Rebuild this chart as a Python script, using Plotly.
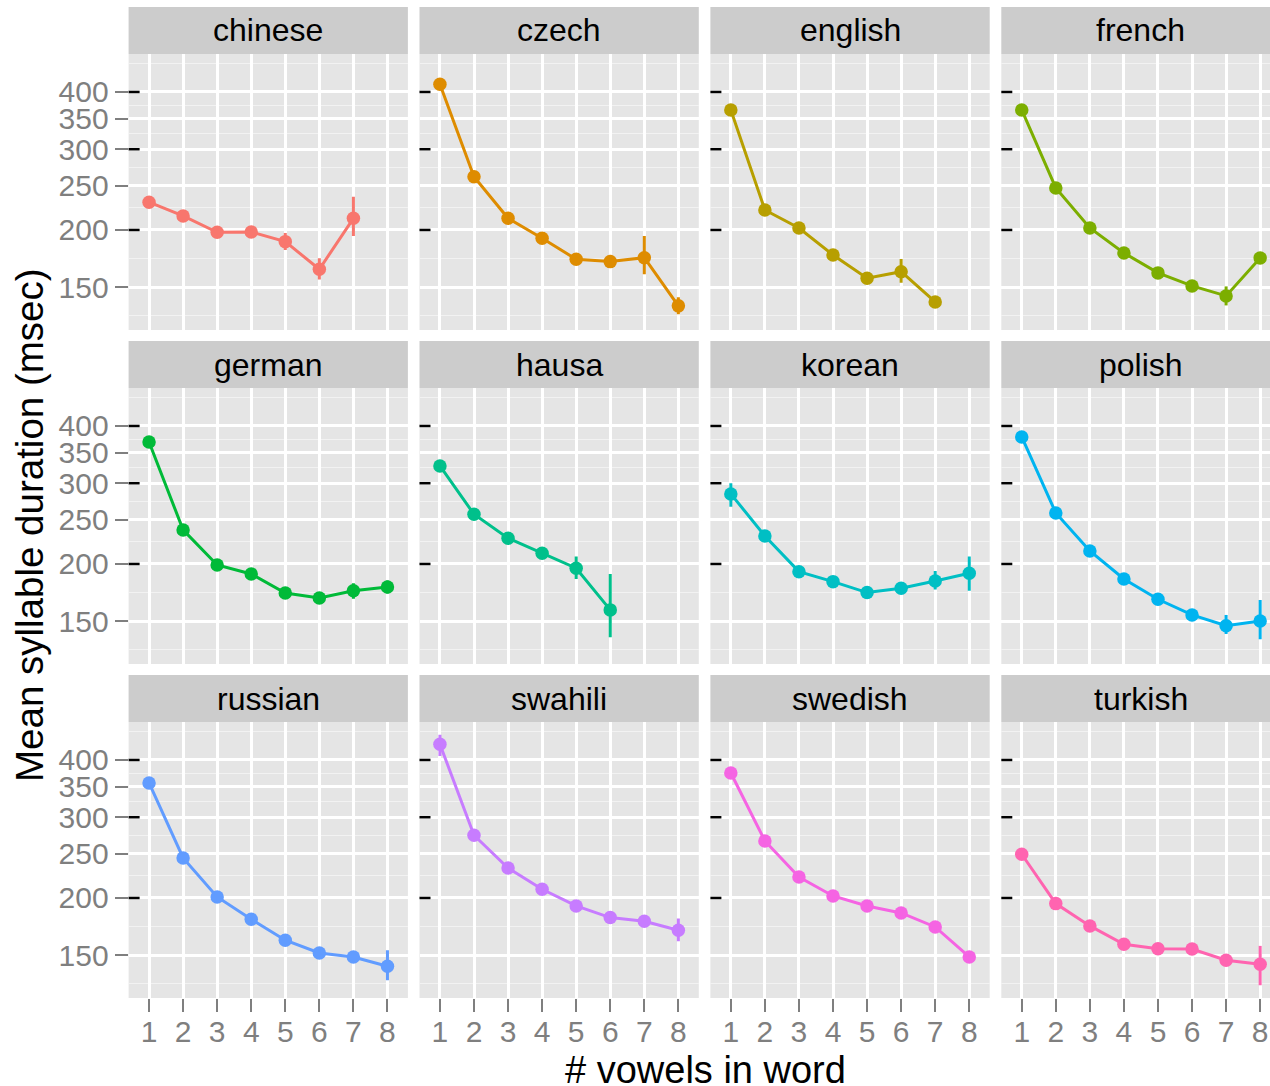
import math
import plotly.graph_objects as go

# ---------------- data ----------------
languages = ["chinese", "czech", "english", "french", "german", "hausa",
             "korean", "polish", "russian", "swahili", "swedish", "turkish"]
colors = ["#F8766D", "#DE8C00", "#B79F00", "#7CAE00", "#00BA38", "#00C08B",
          "#00BFC4", "#00B4F0", "#619CFF", "#C77CFF", "#F564E3", "#FF64B0"]
vowels = [1, 2, 3, 4, 5, 6, 7, 8]

chinese_mean = [229.9, 214.6, 197.7, 198.0, 188.6, 164.2, 212.0]
chinese_lo = [None, None, None, None, 180.9, 155.9, 194.0]
chinese_hi = [None, None, None, None, 197.0, 173.4, 236.4]

czech_mean = [415.8, 261.4, 212.1, 191.8, 172.6, 170.6, 174.0, 136.6]
czech_lo = [None, None, None, None, None, None, 160.1, 131.0]
czech_hi = [None, None, None, None, None, None, 194.0, 142.6]

english_mean = [365.4, 221.1, 202.0, 176.4, 156.9, 162.2, 139.3]
english_lo = [None, None, None, None, None, 153.5, None]
english_hi = [None, None, None, None, None, 172.9, None]

french_mean = [365.4, 247.0, 202.0, 178.2, 161.2, 151.0, 143.6, 173.8]
french_lo = [None, None, None, None, None, None, 136.9, None]
french_hi = [None, None, None, None, None, None, 150.6, None]

german_mean = [369.0, 237.3, 199.0, 190.2, 172.9, 168.6, 174.8, 178.2]
german_lo = [None, None, None, None, None, None, 168.0, 172.5]
german_hi = [None, None, None, None, None, None, 181.5, 184.0]

hausa_mean = [327.2, 256.7, 227.6, 211.0, 195.8, 158.8]
hausa_lo = [None, None, None, None, 185.5, 138.4]
hausa_hi = [None, None, None, None, 207.5, 190.2]

korean_mean = [284.3, 230.2, 192.4, 183.0, 173.2, 177.0, 183.5, 190.9]
korean_lo = [266.7, None, None, None, None, None, 176.0, 174.9]
korean_hi = [300.0, None, None, None, None, None, 193.0, 207.5]

polish_mean = [378.5, 258.4, 213.5, 185.5, 167.5, 154.8, 146.7, 150.2]
polish_lo = [None, None, None, None, None, None, 140.7, 137.0]
polish_hi = [None, None, None, None, None, None, 154.8, 166.9]

russian_mean = [356.4, 244.5, 201.0, 179.7, 161.7, 151.7, 148.7, 141.9]
russian_lo = [None, None, None, None, None, None, None, 132.3]
russian_hi = [None, None, None, None, None, None, None, 153.8]

swahili_mean = [432.8, 274.0, 232.5, 208.9, 192.1, 181.2, 177.9, 170.0]
swahili_lo = [408.0, None, None, None, None, None, None, 160.9]
swahili_hi = [454.0, None, None, None, None, None, None, 180.3]

swedish_mean = [374.7, 266.3, 222.2, 202.0, 192.1, 185.5, 172.9, 148.7]
swedish_lo = [None, None, None, None, None, None, None, 144.5]
swedish_hi = [None, None, None, None, None, None, None, 153.0]

turkish_mean = [249.1, 194.4, 173.8, 158.5, 155.0, 154.7, 146.3, 143.4]
turkish_lo = [None, None, None, None, None, None, None, 129.0]
turkish_hi = [None, None, None, None, None, None, None, 157.2]

y_major = [150, 200, 250, 300, 350, 400]
y_minor = [130, 173.2, 223.6, 273.9, 324.0, 374.2, 462]
y_marked = [200, 300, 400]
x_title = "# vowels in word"
y_title = "Mean syllable duration (msec)"

series = {
    "chinese": (chinese_mean, chinese_lo, chinese_hi),
    "czech": (czech_mean, czech_lo, czech_hi),
    "english": (english_mean, english_lo, english_hi),
    "french": (french_mean, french_lo, french_hi),
    "german": (german_mean, german_lo, german_hi),
    "hausa": (hausa_mean, hausa_lo, hausa_hi),
    "korean": (korean_mean, korean_lo, korean_hi),
    "polish": (polish_mean, polish_lo, polish_hi),
    "russian": (russian_mean, russian_lo, russian_hi),
    "swahili": (swahili_mean, swahili_lo, swahili_hi),
    "swedish": (swedish_mean, swedish_lo, swedish_hi),
    "turkish": (turkish_mean, turkish_lo, turkish_hi),
}

# ---------------- geometry (pixels) ----------------
W, H = 1270, 1086
PANEL_W = 279.3
COL_STEP = 290.9
LEFT0 = 128.6
ROW_STEP = 334
PANEL_TOP0 = 54
PANEL_BOT0 = 330
STRIP_TOP0 = 7
UNIT = PANEL_W / 8.2
Y_LO, Y_HI = 121.0, 484.0
YRANGE = [math.log10(Y_LO), math.log10(Y_HI)]

FONT = "Liberation Sans, Arial, Helvetica, sans-serif"
GREY_TXT = "#7F7F7F"

fig = go.Figure()
shapes = []
annotations = []

for i, lang in enumerate(languages):
    r, c = divmod(i, 4)
    n = i + 1
    xname = "x" if n == 1 else f"x{n}"
    yname = "y" if n == 1 else f"y{n}"
    mean, lo, hi = series[lang]
    xs = vowels[:len(mean)]
    err_plus = [(h - m) if h is not None else 0 for m, h in zip(mean, hi)]
    err_minus = [(m - l) if l is not None else 0 for m, l in zip(mean, lo)]
    col = colors[i]
    fig.add_trace(go.Scatter(
        x=xs, y=mean, mode="lines+markers", name=lang,
        line=dict(color=col, width=3),
        marker=dict(color=col, size=13.5),
        error_y=dict(type="data", symmetric=False, array=err_plus,
                     arrayminus=err_minus, color=col, thickness=3, width=0),
        xaxis=xname, yaxis=yname, showlegend=False, hoverinfo="skip"))

    left = LEFT0 + c * COL_STEP
    right = min(left + PANEL_W, W)
    xmax = 0.4 + (right - left) / UNIT
    top = PANEL_TOP0 + r * ROW_STEP
    bot = PANEL_BOT0 + r * ROW_STEP

    xa = dict(domain=[left / W, right / W], range=[0.4, xmax],
              anchor=yname, tickmode="array", tickvals=vowels,
              ticktext=[str(v) for v in vowels],
              showgrid=True, gridcolor="white", gridwidth=2.7,
              zeroline=False, showline=False,
              showticklabels=(r == 2),
              ticks="outside" if r == 2 else "",
              ticklen=13, tickwidth=2, tickcolor=GREY_TXT,
              ticklabelstandoff=-6,
              tickfont=dict(family=FONT, size=30, color=GREY_TXT),
              fixedrange=True)
    ya = dict(domain=[1 - bot / H, 1 - top / H], type="log", range=YRANGE,
              anchor=xname, tickmode="array", tickvals=y_major,
              ticktext=[str(v) for v in y_major],
              showgrid=True, gridcolor="white", gridwidth=2.7,
              minor=dict(tickmode="array", tickvals=y_minor, showgrid=True,
                         gridcolor="#F2F2F2", gridwidth=1.3, ticks=""),
              zeroline=False, showline=False,
              showticklabels=(c == 0),
              ticks="outside" if c == 0 else "",
              ticklen=13, tickwidth=2, tickcolor=GREY_TXT,
              tickfont=dict(family=FONT, size=30, color=GREY_TXT),
              fixedrange=True)
    fig.layout["xaxis" if n == 1 else f"xaxis{n}"] = xa
    fig.layout["yaxis" if n == 1 else f"yaxis{n}"] = ya

    # strip
    stop = STRIP_TOP0 + r * ROW_STEP
    shapes.append(dict(type="rect", xref="paper", yref="paper",
                       x0=left / W, x1=right / W,
                       y0=1 - top / H, y1=1 - stop / H,
                       fillcolor="#CCCCCC", line=dict(width=0)))
    annotations.append(dict(text=lang, xref="paper", yref="paper",
                            x=(left + PANEL_W / 2) / W,
                            y=1 - (stop + top) / 2 / H,
                            xanchor="center", yanchor="middle",
                            showarrow=False,
                            font=dict(family=FONT, size=32, color="black")))
    # short black marks at left edge of each panel (decoration at 200/300/400)
    for v in y_marked:
        frac = (math.log10(v) - YRANGE[0]) / (YRANGE[1] - YRANGE[0])
        ypix = bot - frac * (bot - top)
        shapes.append(dict(type="line", xref="paper", yref="paper",
                           x0=left / W, x1=(left + 11) / W,
                           y0=1 - ypix / H, y1=1 - ypix / H,
                           layer="above",
                           line=dict(color="black", width=2.5)))

annotations.append(dict(text=y_title, xref="paper", yref="paper",
                        x=30 / W, y=1 - 525 / H, textangle=-90,
                        xanchor="center", yanchor="middle", showarrow=False,
                        font=dict(family=FONT, size=38.5, color="black")))
annotations.append(dict(text=x_title, xref="paper", yref="paper",
                        x=705 / W, y=1 - 1047 / H,
                        xanchor="center", yanchor="top", showarrow=False,
                        font=dict(family=FONT, size=38, color="black")))

fig.update_layout(width=W, height=H, margin=dict(l=0, r=0, t=0, b=0),
                  paper_bgcolor="white", plot_bgcolor="#E5E5E5",
                  shapes=shapes, annotations=annotations, showlegend=False)

fig.write_html("out.html", config={"displayModeBar": False})
